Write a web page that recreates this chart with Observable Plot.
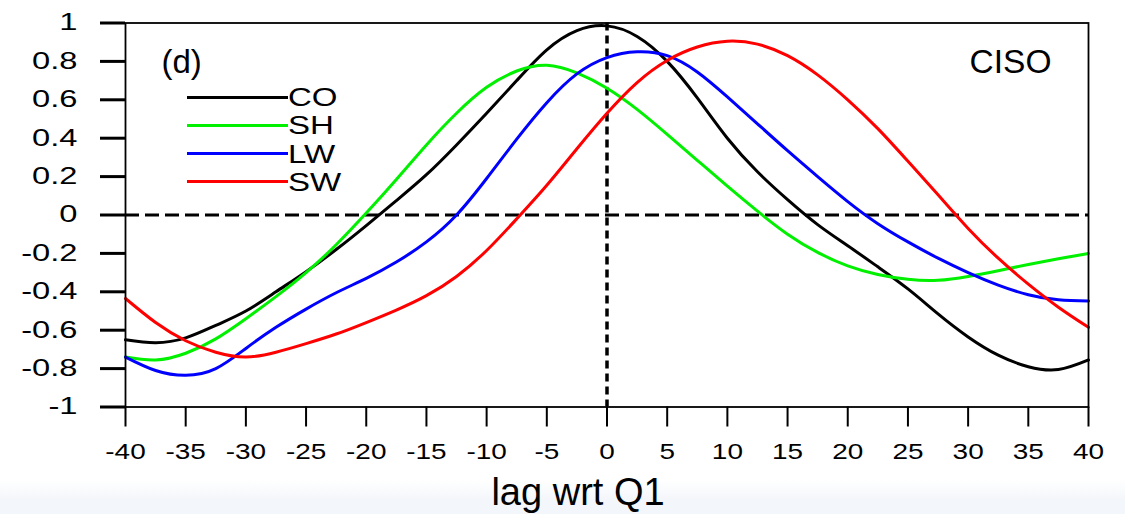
<!DOCTYPE html>
<html>
<head>
<meta charset="utf-8">
<script src="https://cdn.jsdelivr.net/npm/d3@7"></script>
<script src="https://cdn.jsdelivr.net/npm/@observablehq/plot@0.6"></script>
<style>
  html, body { margin: 0; padding: 0; background: #fff; }
  #wrap {
    position: relative; width: 1125px; height: 514px; overflow: hidden;
    background: linear-gradient(to bottom, #ffffff 0px, #ffffff 480px, #f3f6fa 500px, #f3f6fa 514px);
  }
  #wrap svg { position: absolute; left: 0; top: 0; }
  .key { position: absolute; left: 187px; top: 0; font-family: "Liberation Sans", Arial, Helvetica, sans-serif; }
  .key .row { position: absolute; left: 0; height: 28px; display: flex; align-items: center; white-space: nowrap; }
  .key .swatch { width: 101px; height: 3px; }
  .key .name { font-size: 25px; line-height: 28px; margin-left: 0px; transform: scaleX(1.32); transform-origin: left center; }
</style>
</head>
<body>
<div id="wrap"></div>
<script>
// Lag (days) relative to Q1
const lags = [-40, -37.5, -35, -32.5, -30, -27.5, -25, -22.5, -20, -17.5, -15, -12.5, -10, -7.5, -5, -2.5,
              0, 2.5, 5, 7.5, 10, 12.5, 15, 17.5, 20, 22.5, 25, 27.5, 30, 32.5, 35, 37.5, 40];

// Lag correlations of each component with Q1
const co = [-0.65, -0.665, -0.64, -0.575, -0.50, -0.40, -0.295, -0.18, -0.055, 0.075, 0.21, 0.365, 0.53, 0.70, 0.86, 0.96,
            0.985, 0.93, 0.80, 0.61, 0.40, 0.225, 0.08, -0.05, -0.16, -0.27, -0.385, -0.515, -0.635, -0.73, -0.79, -0.805, -0.755];
const sh = [-0.74, -0.755, -0.72, -0.645, -0.54, -0.425, -0.30, -0.155, 0.01, 0.185, 0.365, 0.53, 0.665, 0.75, 0.78, 0.74,
            0.66, 0.55, 0.42, 0.285, 0.15, 0.02, -0.10, -0.195, -0.265, -0.31, -0.335, -0.34, -0.32, -0.29, -0.258, -0.228, -0.20];
const lw = [-0.74, -0.81, -0.835, -0.80, -0.695, -0.585, -0.49, -0.405, -0.33, -0.245, -0.14, 0.0, 0.19, 0.395, 0.585, 0.735,
            0.82, 0.85, 0.83, 0.745, 0.615, 0.475, 0.335, 0.20, 0.07, -0.045, -0.14, -0.225, -0.30, -0.365, -0.415, -0.442, -0.448];
const sw = [-0.435, -0.56, -0.655, -0.715, -0.74, -0.715, -0.67, -0.62, -0.56, -0.495, -0.42, -0.32, -0.185, -0.02, 0.155, 0.345,
            0.53, 0.69, 0.805, 0.875, 0.905, 0.89, 0.83, 0.73, 0.60, 0.45, 0.28, 0.105, -0.07, -0.225, -0.36, -0.48, -0.585];

const seriesNames = ["CO", "SH", "LW", "SW"];
const seriesValues = [co, sh, lw, sw];

// Tick values and their printed labels
const xTicks = [-40, -35, -30, -25, -20, -15, -10, -5, 0, 5, 10, 15, 20, 25, 30, 35, 40];
const xTickLabels = ["-40", "-35", "-30", "-25", "-20", "-15", "-10", "-5", "0", "5", "10", "15", "20", "25", "30", "35", "40"];
const yTicks = [1, 0.8, 0.6, 0.4, 0.2, 0, -0.2, -0.4, -0.6, -0.8, -1];
const yTickLabels = ["1", "0.8", "0.6", "0.4", "0.2", "0", "-0.2", "-0.4", "-0.6", "-0.8", "-1"];

const panelTag = "(d)";
const panelTitle = "CISO";
const xTitle = "lag wrt Q1";

// Styling
const seriesColors = ["#000000", "#00f000", "#0000ff", "#ff0000"];
const FONT = "'Liberation Sans', Arial, Helvetica, sans-serif";

// Long-format rows for the line mark
const rows = seriesNames.flatMap((name, s) => lags.map((lag, i) => ({series: name, lag, value: seriesValues[s][i]})));

const xLabelOf = new Map(xTicks.map((v, i) => [v, xTickLabels[i]]));
const yLabelOf = new Map(yTicks.map((v, i) => [v, yTickLabels[i]]));

const chart = Plot.plot({
  width: 1125,
  height: 514,
  marginLeft: 125,
  marginRight: 37,
  marginTop: 22.5,
  marginBottom: 107.5,
  style: {fontFamily: FONT, fontSize: "22px", background: "transparent", color: "black", overflow: "visible"},
  x: {domain: [-40, 40]},
  y: {domain: [-1, 1]},
  color: {domain: seriesNames, range: seriesColors},
  marks: [
    Plot.ruleY([0], {stroke: "black", strokeWidth: 3, strokeDasharray: "14,6"}),
    Plot.ruleX([0], {stroke: "black", strokeWidth: 3.5, strokeDasharray: "8,5"}),
    Plot.line(rows, {x: "lag", y: "value", z: "series", stroke: "series", strokeWidth: 3, curve: "natural"}),
    Plot.frame({stroke: "black", strokeWidth: 1.8}),
    Plot.axisY(yTicks, {
      tickSize: 25, tickPadding: 23, strokeWidth: 3, fontSize: 23, label: null,
      tickFormat: (d) => yLabelOf.get(d), ariaLabel: "y-axis"
    }),
    Plot.axisX(xTicks, {
      tickSize: 20, tickPadding: 16, strokeWidth: 2, fontSize: 22, label: null,
      tickFormat: (d) => xLabelOf.get(d), ariaLabel: "x-axis"
    }),
    Plot.text([panelTag], {text: (d) => d, frameAnchor: "top-left", textAnchor: "start", lineAnchor: "middle",
      dx: 36, dy: 39, fontSize: 33, fill: "black", ariaLabel: "panel tag"}),
    Plot.text([panelTitle], {text: (d) => d, frameAnchor: "top-right", textAnchor: "end", lineAnchor: "middle",
      dx: -37, dy: 39, fontSize: 33.5, fill: "black", ariaLabel: "panel title"}),
    Plot.text([xTitle], {text: (d) => d, frameAnchor: "bottom", textAnchor: "middle", lineAnchor: "middle",
      dx: -29, dy: 86, fontSize: 38, fill: "black", ariaLabel: "x title"})
  ]
});

// Widen glyphs horizontally around each label's own anchor point
function widen(svg, selector, factor) {
  svg.querySelectorAll(selector).forEach((t) => {
    const tr = t.getAttribute("transform") || "";
    t.setAttribute("transform", `${tr} scale(${factor},1)`);
  });
}
widen(chart, 'g[aria-label="y-axis tick label"] text', 1.42);
widen(chart, 'g[aria-label="x-axis tick label"] text', 1.27);
widen(chart, 'g[aria-label="panel tag"] text', 1.28);
widen(chart, 'g[aria-label="panel title"] text', 1.21);
widen(chart, 'g[aria-label="x title"] text', 1.07);

const wrap = document.getElementById("wrap");
wrap.appendChild(chart);

// Series key inside the upper-left of the panel
const key = d3.select(wrap).append("div").attr("class", "key");
const rowsKey = key.selectAll("div.row").data(seriesNames).join("div")
  .attr("class", "row")
  .style("top", (d, i) => `${83 + i * 28.3}px`);
rowsKey.append("div").attr("class", "swatch").style("background", (d, i) => seriesColors[i]);
rowsKey.append("span").attr("class", "name").text((d) => d);
</script>
</body>
</html>
